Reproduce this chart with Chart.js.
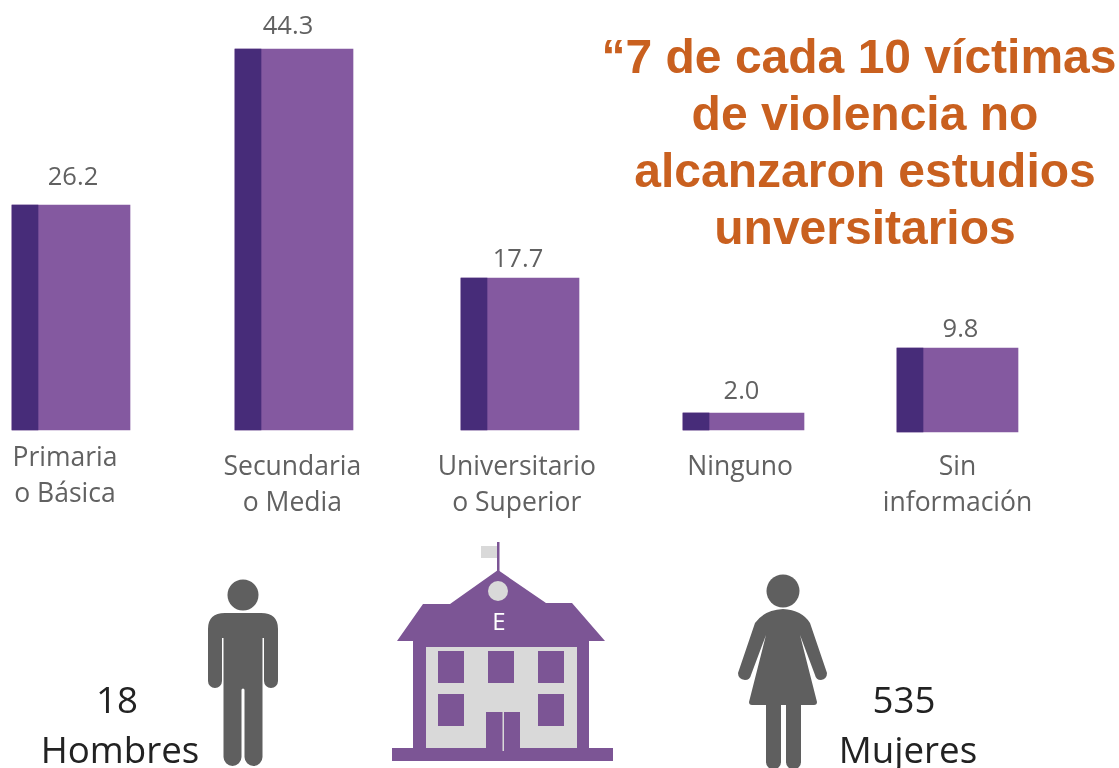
<!DOCTYPE html>
<html lang="es">
<head>
<meta charset="utf-8">
<title>Víctimas de violencia por nivel de estudios</title>
<script src="https://cdn.jsdelivr.net/npm/chart.js@4"></script>
<style>
    html, body { margin: 0; background: #fff; overflow: hidden; }
    #wrap { position: relative; width: 1119px; height: 768px; }
    #art { position: absolute; left: 0; top: 0; }
    .headline { font: bold 48px "Liberation Sans", Arial, sans-serif; fill: #c9601f; text-anchor: middle; }
    .count { font: 36.7px "Open Sans", sans-serif; fill: #222; text-anchor: middle; }
</style>
</head>
<body>
<div id="wrap">
    <canvas id="chart" width="1119" height="768"></canvas>
    <svg id="art" width="1119" height="768" viewBox="0 0 1119 768">
        <text class="headline" x="859" y="73">“7 de cada 10 víctimas</text>
        <text class="headline" x="865" y="130">de violencia no</text>
        <text class="headline" x="865" y="187">alcanzaron estudios</text>
        <text class="headline" x="865" y="244">unversitarios</text>

        <!-- hombre -->
        <g fill="#5f5f5f">
            <circle cx="243" cy="595" r="15.5"/>
            <path d="M208 629 Q208 613 225 613 H261 Q278 613 278 629 V681 A7 7 0 0 1 264 681 V638 H262.5 V757 A9 9 0 0 1 244.5 757 V690 A1.5 1.5 0 0 0 241.5 690 V757 A9 9 0 0 1 223.5 757 V638 H222 V681 A7 7 0 0 1 208 681 Z"/>
        </g>

        <!-- escuela -->
        <rect x="481" y="546" width="16" height="12" fill="#d9d9d9"/>
        <rect x="497" y="542" width="2.5" height="30" fill="#7c5595"/>
        <path d="M498 570 L546 603 H572 L605 641 H589 V748 H613 V761 H392 V748 H413 V641 H397 L423 604 H450 Z" fill="#7c5595"/>
        <circle cx="498" cy="591" r="10" fill="#d9d9d9"/>
        <text x="499" y="630" fill="#fff" text-anchor="middle" style="font: 24px 'Open Sans', sans-serif">E</text>
        <rect x="426" y="647" width="151" height="101" fill="#d9d9d9"/>
        <g fill="#7c5595">
            <rect x="438" y="651" width="26" height="32"/>
            <rect x="488" y="651" width="26" height="32"/>
            <rect x="538" y="651" width="26" height="32"/>
            <rect x="438" y="694" width="26" height="32"/>
            <rect x="538" y="694" width="26" height="32"/>
            <rect x="486" y="712" width="34" height="37"/>
        </g>
        <rect x="502.5" y="712" width="1.5" height="39" fill="#d9d9d9"/>

        <!-- mujer -->
        <g fill="#5f5f5f">
            <circle cx="783" cy="591" r="16.5"/>
            <path d="M783 609 Q802 610 810 623 L827 673 Q827 679 821 680 Q816 680 815 675 L800 635 L817 702 Q817 705 814 705 H801 V762 A7.5 7.5 0 0 1 786 762 V705 H781 V762 A7.5 7.5 0 0 1 766 762 V705 H752 Q749 705 749 702 L766 635 L751 675 Q750 680 745 680 Q738 679 738 673 L755 623 Q764 610 783 609 Z"/>
        </g>

        <text class="count" x="117" y="713">18</text>
        <text class="count" x="120" y="763">Hombres</text>
        <text class="count" x="904" y="713">535</text>
        <text class="count" x="908" y="763">Mujeres</text>
    </svg>
</div>

<script>
const categories = [
    ['Primaria', 'o Básica'],
    ['Secundaria', 'o Media'],
    ['Universitario', 'o Superior'],
    'Ninguno',
    ['Sin', 'información']
];
const percentages = [26.2, 44.3, 17.7, 2.0, 9.8];

const LIGHT_PURPLE = '#8459a0';
const DARK_PURPLE = '#472c79';
const TEXT_GREY = '#616161';

// The original bars are not evenly spaced, so each one gets a small pixel shift
const barShiftX = [0, 2, 6, 7, -1];
const barShiftY = [0, 0, 0, 0, 2];
const barWidths = [118, 118, 118, 121, 121];
const tickShift = [[-6, -9], [0, 0], [3, 0], [5, 0], [1, 0]];
const valueShift = [[2, -3], [-6, 2], [-2, 6], [-2, 3], [3, 6]];

// Moves the bars and tick labels onto their places in the original
const placementPlugin = {
    id: 'placement',
    afterDatasetsUpdate(chart) {
        const dark = chart.getDatasetMeta(0).data;
        const light = chart.getDatasetMeta(1).data;
        light.forEach((bar, i) => {
            // keep the bar edges on whole pixels, the reference has crisp edges
            const left = Math.round(bar.x - 59 + barShiftX[i]);
            bar.width = barWidths[i];
            bar.x = left + barWidths[i] / 2;
            bar.y = Math.round(bar.y + barShiftY[i]);
            bar.base = Math.round(bar.base + barShiftY[i]);
            dark[i].x = left + dark[i].width / 2;
            dark[i].y = bar.y;
            dark[i].base = bar.base;
        });
    },
    beforeDraw(chart) {
        const items = chart.scales.x.getLabelItems(chart.chartArea);
        items.forEach((item, i) => {
            const t = item.options.translation;
            item.options.translation = [t[0] + tickShift[i][0], t[1] + tickShift[i][1]];
        });
    }
};

// Value written above each bar
const valueLabelPlugin = {
    id: 'valueLabels',
    afterDatasetsDraw(chart) {
        const { ctx } = chart;
        ctx.save();
        ctx.font = '25.5px "Open Sans", sans-serif';
        ctx.fillStyle = TEXT_GREY;
        ctx.textAlign = 'center';
        ctx.textBaseline = 'middle';
        chart.getDatasetMeta(1).data.forEach((bar, i) => {
            ctx.fillText(percentages[i].toFixed(1), bar.x + valueShift[i][0], bar.y - 24 + valueShift[i][1]);
        });
        ctx.restore();
    }
};

new Chart(document.getElementById('chart'), {
    type: 'bar',
    data: {
        labels: categories,
        datasets: [
            { data: percentages, backgroundColor: DARK_PURPLE, barThickness: 26, grouped: false },
            { data: percentages, backgroundColor: LIGHT_PURPLE, barThickness: 118, grouped: false }
        ]
    },
    options: {
        responsive: false,
        animation: false,
        clip: false,
        layout: { padding: { left: 71, right: 162.5, top: 49, bottom: 0 } },
        plugins: {
            legend: { display: false },
            title: { display: false },
            tooltip: { enabled: false }
        },
        scales: {
            x: {
                offset: false,
                grid: { display: false },
                border: { display: false },
                afterFit(scale) { scale.height = 338; },
                ticks: {
                    color: TEXT_GREY,
                    font: { family: '"Open Sans", sans-serif', size: 26.5, lineHeight: 1.36 },
                    padding: 11,
                    maxRotation: 0,
                    autoSkip: false
                }
            },
            y: {
                display: false,
                min: 0,
                max: 44.3
            }
        }
    },
    plugins: [placementPlugin, valueLabelPlugin]
});
</script>
</body>
</html>
